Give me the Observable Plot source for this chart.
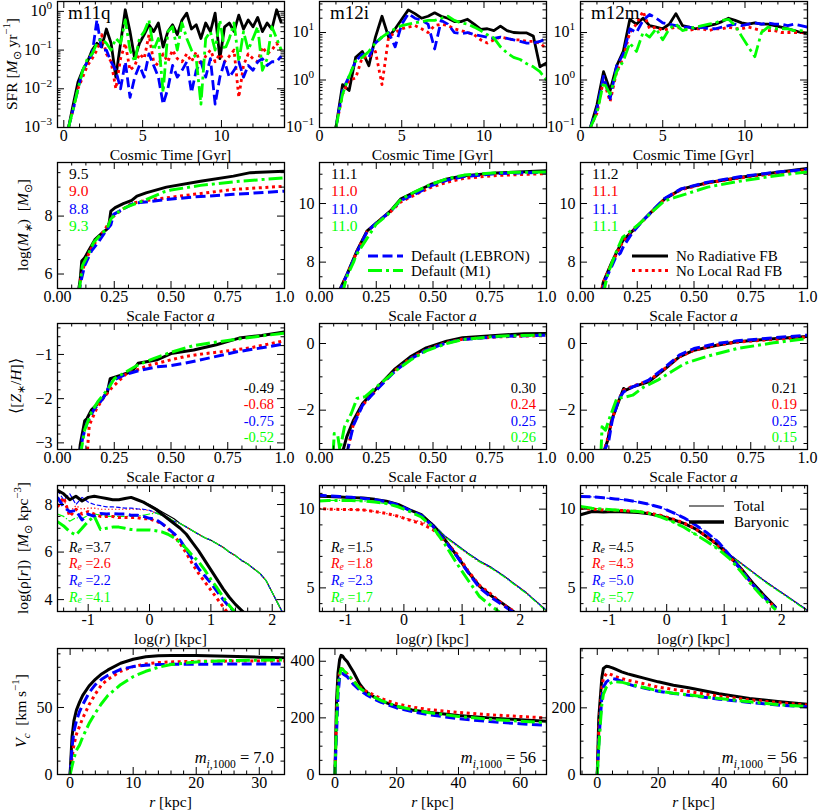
<!DOCTYPE html>
<html><head><meta charset="utf-8">
<script src="https://cdn.jsdelivr.net/npm/d3@7"></script>
<script src="https://cdn.jsdelivr.net/npm/@observablehq/plot@0.6"></script>
<style>
body{margin:0;background:#fff;}
#root{position:relative;width:822px;height:812px;overflow:hidden;background:#fff;}
#root svg{position:absolute;overflow:visible;}
#root text{white-space:pre;}
</style></head><body><div id="root"></div>
<script>
// ---------------- DATA ----------------
const galaxies = ["m11q", "m12i", "m12m"];
const seriesNames = ["No Radiative FB", "No Local Rad FB", "Default (LEBRON)", "Default (M1)"];

// Row 1: SFR [Msun/yr] vs cosmic time [Gyr]
const sfrTime_m11q = [0.3,0.6,0.9,1.2,1.5,1.8,2.1,2.4,2.7,3.0,3.3,3.6,3.9,4.2,4.5,4.8,5.1,5.4,5.7,6.0,6.3,6.6,6.9,7.2,7.5,7.8,8.1,8.4,8.7,9.0,9.3,9.6,9.9,10.2,10.5,10.8,11.1,11.4,11.7,12.0,12.3,12.6,12.9,13.2,13.5,13.8];
const sfr_m11q_noRad   = [0.001,0.004,0.015,0.03,0.05,0.1,0.15,0.12,0.35,0.15,0.02,0.15,1.1,0.3,0.06,0.15,0.25,0.45,0.3,0.5,0.12,0.3,0.45,0.25,0.6,0.9,0.35,0.45,0.2,0.5,0.3,0.9,0.06,0.4,0.5,0.3,0.8,0.35,0.6,0.4,0.7,0.3,0.5,0.35,1.1,0.5];
const sfr_m11q_noLocal = [0.001,0.003,0.01,0.02,0.04,0.06,0.1,0.25,0.08,0.05,0.01,0.06,0.15,0.03,0.04,0.08,0.06,0.25,0.05,0.04,0.08,0.05,0.1,0.06,0.05,0.08,0.05,0.09,0.04,0.07,0.1,0.05,0.08,0.05,0.07,0.1,0.006,0.04,0.08,0.06,0.05,0.12,0.08,0.1,0.15,0.1];
const sfr_m11q_lebron  = [0.001,0.003,0.01,0.03,0.05,0.08,0.6,0.1,0.1,0.05,0.03,0.01,0.05,0.006,0.02,0.04,0.02,0.08,0.04,0.02,0.004,0.01,0.04,0.02,0.03,0.05,0.008,0.03,0.05,0.02,0.06,0.004,0.02,0.05,0.02,0.03,0.05,0.02,0.04,0.03,0.05,0.06,0.04,0.05,0.05,0.07];
const sfr_m11q_m1      = [0.001,0.003,0.01,0.03,0.06,0.08,0.15,0.2,0.15,0.1,0.2,0.15,0.6,0.1,0.05,0.2,0.3,0.6,0.1,0.2,0.008,0.3,0.4,0.1,0.5,0.2,0.1,0.06,0.004,0.2,0.3,0.1,0.6,0.1,0.2,0.5,0.05,0.3,0.1,0.2,0.4,0.03,0.06,0.4,0.2,0.1];

const sfrTime_m12i = [1.0,1.4,1.8,2.2,2.6,3.0,3.4,3.8,4.2,4.6,5.0,5.4,5.8,6.2,6.6,7.0,7.4,7.8,8.2,8.6,9.0,9.4,9.8,10.2,10.6,11.0,11.4,11.8,12.2,12.6,13.0,13.4,13.8];
const sfr_m12i_noRad   = [0.1,0.8,0.6,3,4,2,8,22,8,12,19,30,25,20,22,26,22,20,17,17,19,15,11.6,12,11,13.6,11,10,9.8,9.8,8.4,1.9,2.3];
const sfr_m12i_noLocal = [0.1,0.5,1.0,1.1,3,3,4,0.8,8,10,12,13,14,12,10,14,15,14,12,11,10,9,7,6,7,8,7.5,7,7,6.5,6.5,6,4.5];
const sfr_m12i_lebron  = [0.1,0.6,1.2,2.5,3.5,3,6,8,10,5,15,25,20,18,15,4.5,18,15,10,9.5,10,9,8.5,8,7.5,8,7.5,7,6.5,6,6,6.5,7.5];
const sfr_m12i_m1      = [0.1,0.5,1.2,2.5,3,4,6,8,10,12,14,15,16,17,18,18,20,22,18,16,15,13,11,9,7.7,5,3.7,3,2.7,2.2,1.9,1.5,1.0];

const sfrTime_m12m = [0.6,1.0,1.4,1.8,2.2,2.6,3.0,3.4,3.8,4.2,4.6,5.0,5.4,5.8,6.2,6.6,7.0,7.4,7.8,8.2,8.6,9.0,9.4,9.8,10.2,10.6,11.0,11.4,11.8,12.2,12.6,13.0,13.4,13.8];
const sfr_m12m_noRad   = [0.1,0.3,1.5,0.6,2,4,19,15,20,14,13,12,15,25,14,13,12,13,14,15,17,20,18,16,15,16,15,15,14,13,12,11,10,9.8];
const sfr_m12m_noLocal = [0.1,0.2,1.0,0.35,1.5,3,10,15,28,12,13,11,12,13,12,11,12,12,11,12,12,13,12,12,13,12,11,11,11,10,10,10,10,10.5];
const sfr_m12m_lebron  = [0.1,0.25,1.2,0.4,2,3.5,12,10,18,24,20,16,15,14,13,13,12,13,12,12,13,14,15,14,15,16,15,16,15,15,14,15,14,13];
const sfr_m12m_m1      = [0.1,0.2,0.9,0.5,1.5,2.5,6,4,10,8,12,7,12,15,11,12,13,14,15,16,18,19,14,8.3,5,3.1,10,13,12,12,12,11,11,10];

// Row 2: log(M*) vs scale factor a   ([a, logM])
const mstar_m11q_noRad   = [[0.09,5.3],[0.1,5.8],[0.107,6.45],[0.12,6.56],[0.137,6.8],[0.166,7.2],[0.19,7.37],[0.217,7.54],[0.228,7.77],[0.235,8.17],[0.254,8.29],[0.29,8.43],[0.327,8.54],[0.35,8.69],[0.39,8.8],[0.48,9.0],[0.63,9.2],[0.775,9.38],[0.85,9.5],[1.0,9.55]];
const mstar_m11q_noLocal = [[0.095,5.3],[0.1,5.75],[0.12,6.4],[0.15,6.9],[0.18,7.25],[0.21,7.55],[0.24,7.95],[0.28,8.2],[0.33,8.45],[0.4,8.55],[0.48,8.63],[0.6,8.75],[0.775,8.92],[1.0,9.03]];
const mstar_m11q_lebron  = [[0.095,5.3],[0.1,5.64],[0.12,6.3],[0.15,6.8],[0.18,7.1],[0.21,7.45],[0.235,7.7],[0.247,8.06],[0.28,8.2],[0.335,8.44],[0.4,8.5],[0.48,8.57],[0.6,8.66],[0.775,8.75],[1.0,8.86]];
const mstar_m11q_m1      = [[0.095,5.3],[0.1,5.7],[0.11,6.3],[0.13,6.6],[0.16,7.1],[0.19,7.35],[0.22,7.6],[0.235,7.9],[0.26,8.1],[0.3,8.3],[0.35,8.45],[0.39,8.57],[0.47,8.84],[0.5,8.9],[0.63,9.06],[0.8,9.2],[1.0,9.32]];

const mstar_m12i_noRad   = [[0.09,6.9],[0.093,7.12],[0.122,7.6],[0.166,8.4],[0.21,9.07],[0.254,9.36],[0.313,9.75],[0.357,10.15],[0.416,10.37],[0.49,10.65],[0.563,10.84],[0.637,10.95],[0.78,11.04],[1.0,11.12]];
const mstar_m12i_noLocal = [[0.09,6.9],[0.095,7.12],[0.122,7.58],[0.166,8.38],[0.21,9.05],[0.254,9.35],[0.313,9.72],[0.357,10.05],[0.416,10.28],[0.49,10.55],[0.563,10.73],[0.637,10.86],[0.78,10.96],[1.0,11.02]];
const mstar_m12i_lebron  = [[0.09,6.9],[0.095,7.12],[0.122,7.58],[0.166,8.36],[0.21,9.05],[0.254,9.36],[0.313,9.73],[0.357,10.1],[0.416,10.3],[0.49,10.6],[0.563,10.8],[0.637,10.92],[0.78,11.02],[1.0,11.07]];
const mstar_m12i_m1      = [[0.1,6.9],[0.12,7.5],[0.15,8.0],[0.16,8.22],[0.2,8.7],[0.25,9.3],[0.3,9.62],[0.36,10.15],[0.42,10.4],[0.49,10.65],[0.563,10.85],[0.637,10.97],[0.78,11.05],[1.0,11.08]];

const mstar_m12m_noRad   = [[0.09,6.9],[0.1,7.3],[0.135,7.94],[0.16,8.35],[0.186,8.73],[0.23,9.07],[0.267,9.36],[0.325,9.81],[0.37,10.15],[0.443,10.49],[0.56,10.71],[0.707,10.9],[0.853,11.05],[1.0,11.2]];
const mstar_m12m_noLocal = [[0.09,6.9],[0.1,7.3],[0.135,7.92],[0.16,8.3],[0.186,8.7],[0.23,9.05],[0.267,9.35],[0.325,9.8],[0.37,10.15],[0.443,10.47],[0.56,10.7],[0.707,10.88],[0.853,11.02],[1.0,11.15]];
const mstar_m12m_lebron  = [[0.095,6.9],[0.11,7.4],[0.14,7.9],[0.157,8.2],[0.175,8.3],[0.19,8.55],[0.23,9.02],[0.267,9.35],[0.325,9.82],[0.37,10.17],[0.443,10.5],[0.56,10.73],[0.707,10.92],[0.853,11.06],[1.0,11.17]];
const mstar_m12m_m1      = [[0.1,6.9],[0.12,7.6],[0.14,8.0],[0.16,8.4],[0.186,8.85],[0.23,9.12],[0.267,9.36],[0.32,9.75],[0.37,10.09],[0.413,10.2],[0.56,10.56],[0.707,10.77],[0.853,10.94],[1.0,11.08]];
const mstarFinal = [["9.5","9.0","8.8","9.3"],["11.1","11.0","11.0","11.0"],["11.2","11.1","11.1","11.1"]];

// Row 3: <[Z*/H]> vs scale factor a
const zmet_m11q_noRad   = [[0.095,-3.3],[0.1,-3.05],[0.12,-2.5],[0.13,-2.45],[0.15,-2.25],[0.19,-2.05],[0.22,-1.85],[0.232,-1.55],[0.28,-1.47],[0.33,-1.38],[0.355,-1.2],[0.44,-1.12],[0.5,-0.98],[0.6,-0.9],[0.7,-0.78],[0.8,-0.63],[0.9,-0.57],[1.0,-0.49]];
const zmet_m11q_noLocal = [[0.13,-3.3],[0.14,-2.6],[0.17,-2.25],[0.2,-2.0],[0.24,-1.75],[0.3,-1.45],[0.4,-1.25],[0.44,-1.2],[0.5,-1.12],[0.56,-1.05],[0.65,-0.98],[0.72,-0.94],[0.85,-0.85],[1.0,-0.69]];
const zmet_m11q_lebron  = [[0.1,-3.3],[0.11,-2.9],[0.13,-2.55],[0.16,-2.25],[0.2,-2.0],[0.24,-1.6],[0.3,-1.45],[0.37,-1.35],[0.44,-1.28],[0.5,-1.25],[0.56,-1.2],[0.65,-1.1],[0.79,-0.94],[0.9,-0.85],[1.0,-0.76]];
const zmet_m11q_m1      = [[0.1,-3.3],[0.12,-2.7],[0.15,-2.3],[0.18,-2.05],[0.22,-1.8],[0.25,-1.55],[0.3,-1.4],[0.35,-1.25],[0.42,-1.1],[0.5,-0.95],[0.6,-0.8],[0.7,-0.72],[0.8,-0.65],[0.9,-0.58],[1.0,-0.52]];

const zmet_m12i_noRad   = [[0.1,-3.3],[0.12,-2.8],[0.15,-2.3],[0.19,-1.8],[0.26,-1.28],[0.33,-0.78],[0.4,-0.4],[0.47,-0.13],[0.56,0.07],[0.63,0.17],[0.79,0.25],[0.9,0.29],[1.0,0.30]];
const zmet_m12i_noLocal = [[0.12,-3.3],[0.15,-2.4],[0.19,-1.85],[0.26,-1.32],[0.33,-0.82],[0.4,-0.45],[0.47,-0.18],[0.56,0.03],[0.63,0.13],[0.79,0.2],[1.0,0.24]];
const zmet_m12i_lebron  = [[0.12,-3.3],[0.15,-2.45],[0.19,-1.85],[0.26,-1.33],[0.33,-0.85],[0.4,-0.47],[0.47,-0.2],[0.56,0.02],[0.63,0.12],[0.79,0.21],[1.0,0.25]];
const zmet_m12i_m1      = [[0.06,-3.3],[0.065,-2.7],[0.08,-2.75],[0.09,-3.2],[0.11,-2.5],[0.14,-2.1],[0.165,-1.65],[0.2,-1.6],[0.26,-1.25],[0.33,-0.85],[0.4,-0.5],[0.47,-0.22],[0.56,0.0],[0.63,0.12],[0.79,0.22],[1.0,0.26]];

const zmet_m12m_noRad   = [[0.1,-3.3],[0.12,-2.9],[0.137,-2.3],[0.17,-1.7],[0.19,-1.35],[0.2,-1.4],[0.23,-1.3],[0.3,-1.15],[0.366,-0.8],[0.435,-0.4],[0.5,-0.2],[0.6,-0.05],[0.69,0.05],[0.85,0.14],[1.0,0.21]];
const zmet_m12m_noLocal = [[0.1,-3.3],[0.12,-2.85],[0.14,-2.25],[0.17,-1.65],[0.19,-1.4],[0.23,-1.28],[0.3,-1.12],[0.366,-0.78],[0.435,-0.4],[0.5,-0.2],[0.6,-0.05],[0.69,0.04],[0.85,0.12],[1.0,0.19]];
const zmet_m12m_lebron  = [[0.1,-3.3],[0.125,-2.9],[0.14,-2.3],[0.17,-1.65],[0.19,-1.45],[0.23,-1.3],[0.3,-1.1],[0.366,-0.75],[0.435,-0.35],[0.5,-0.15],[0.6,0.0],[0.69,0.08],[0.85,0.17],[1.0,0.25]];
const zmet_m12m_m1      = [[0.09,-3.3],[0.095,-2.5],[0.11,-2.6],[0.13,-2.2],[0.16,-1.65],[0.2,-1.6],[0.23,-1.55],[0.28,-1.3],[0.34,-1.1],[0.4,-0.85],[0.46,-0.6],[0.55,-0.4],[0.69,-0.15],[0.85,0.02],[1.0,0.15]];
const zmetFinal = [["-0.49","-0.68","-0.75","-0.52"],["0.30","0.24","0.25","0.26"],["0.21","0.19","0.25","0.15"]];

// Row 4: log(rho) vs log(r): baryonic (thick) and total (thin)
const logr_m11q = [-1.5,-1.4,-1.3,-1.2,-1.1,-1.0,-0.9,-0.8,-0.7,-0.6,-0.5,-0.4,-0.3,-0.2,-0.1,0.0,0.1,0.2,0.3,0.4,0.5,0.6,0.7,0.8,0.9,1.0,1.1,1.2,1.3,1.4,1.5,1.6,1.7,1.8,1.9,2.0,2.1,2.2];
const rhoBar_m11q_noRad   = [8.6,8.45,8.2,8.35,8.15,8.3,8.35,8.3,8.25,8.2,8.2,8.25,8.3,8.2,8.1,7.95,7.8,7.6,7.4,7.2,7.0,6.75,6.4,6.05,5.65,5.25,4.85,4.45,4.1,3.8,3.55,3.3,null,null,null,null,null,null];
const rhoBar_m11q_noLocal = [7.9,8.3,7.5,7.8,7.6,7.7,7.6,7.5,7.5,7.5,7.45,7.45,7.45,7.45,7.4,7.4,7.3,7.2,7.0,6.7,6.35,5.95,5.5,5.1,4.75,4.4,4.05,3.7,3.35,null,null,null,null,null,null,null,null,null];
const rhoBar_m11q_lebron  = [8.3,7.9,7.7,7.75,7.35,7.6,7.5,7.62,7.6,7.62,7.6,7.6,7.55,7.55,7.5,7.42,7.38,7.2,7.0,6.78,6.5,6.1,5.7,5.3,5.0,4.7,4.35,4.0,3.7,3.45,null,null,null,null,null,null,null,null];
const rhoBar_m11q_m1      = [7.28,7.1,6.85,6.72,7.0,7.3,7.5,6.95,7.0,7.05,7.05,7.0,6.95,6.93,6.93,6.93,6.9,6.85,6.75,6.6,6.4,6.15,5.85,5.6,5.25,4.85,4.5,4.1,3.75,3.45,null,null,null,null,null,null,null,null];
const rhoTot_m11q_noRad   = [8.6,8.45,8.2,8.35,8.15,8.3,8.35,8.3,8.25,8.2,8.2,8.25,8.3,8.2,8.1,8.0,7.85,7.7,7.55,7.4,7.2,7.05,6.9,6.75,6.6,6.5,6.35,6.2,6.0,5.85,5.65,5.5,5.3,5.1,4.8,4.3,3.8,3.3];
const rhoTot_m11q_noLocal = [8.0,8.2,7.7,7.95,7.8,7.85,7.85,7.8,7.8,7.8,7.8,7.8,7.8,7.8,7.78,7.75,7.65,7.55,7.45,7.3,7.2,7.05,6.9,6.75,6.6,6.5,6.35,6.2,6.0,5.85,5.65,5.5,5.3,5.1,4.8,4.3,3.8,3.3];
const rhoTot_m11q_lebron  = [8.6,8.2,8.45,8.0,8.3,8.1,8.0,7.95,7.9,7.9,7.88,7.85,7.85,7.82,7.8,7.76,7.65,7.55,7.45,7.3,7.2,7.05,6.9,6.75,6.6,6.5,6.35,6.2,6.0,5.85,5.65,5.5,5.3,5.1,4.8,4.3,3.8,3.3];
const rhoTot_m11q_m1      = [7.6,7.5,7.3,7.45,7.4,7.55,7.6,7.55,7.5,7.5,7.5,7.5,7.5,7.52,7.55,7.6,7.65,7.55,7.45,7.3,7.2,7.05,6.9,6.75,6.6,6.5,6.35,6.2,6.0,5.85,5.65,5.5,5.3,5.1,4.8,4.3,3.8,3.3];

const logr_m12 = [-1.5,-1.3,-1.1,-0.9,-0.7,-0.5,-0.3,-0.1,0.1,0.3,0.5,0.7,0.9,1.1,1.3,1.5,1.7,1.9,2.1,2.3,2.5];
const rhoBar_m12i_noRad   = [10.82,10.8,10.77,10.73,10.7,10.62,10.5,10.3,9.95,9.65,8.95,8.07,7.1,6.03,5.1,4.5,4.0,3.45,null,null,null];
const rhoBar_m12i_noLocal = [10.06,10.0,9.98,9.97,9.95,9.85,9.72,9.55,9.3,9.08,8.7,8.0,7.2,6.1,5.15,4.6,3.95,3.5,null,null,null];
const rhoBar_m12i_lebron  = [10.88,10.85,10.8,10.75,10.68,10.6,10.47,10.27,9.92,9.6,8.9,8.0,7.05,6.0,5.0,4.4,3.9,3.4,null,null,null];
const rhoBar_m12i_m1      = [10.5,10.55,10.55,10.55,10.52,10.45,10.35,10.15,9.85,9.5,8.85,7.8,6.6,5.5,4.45,3.85,3.3,null,null,null,null];
const rhoTot_m12i_noRad   = [10.82,10.8,10.77,10.73,10.7,10.62,10.5,10.3,9.95,9.65,9.05,8.3,7.75,7.2,6.7,6.3,5.8,5.25,4.7,4.05,3.4];
const rhoTot_m12i_noLocal = [10.06,10.0,9.98,9.97,9.95,9.85,9.72,9.55,9.35,9.2,8.9,8.25,7.7,7.15,6.65,6.25,5.8,5.25,4.7,4.05,3.4];
const rhoTot_m12i_lebron  = [10.88,10.85,10.8,10.75,10.68,10.6,10.47,10.27,9.95,9.65,9.05,8.3,7.75,7.2,6.7,6.3,5.8,5.25,4.7,4.05,3.4];
const rhoTot_m12i_m1      = [10.5,10.55,10.55,10.55,10.52,10.45,10.35,10.15,9.9,9.6,9.0,8.25,7.7,7.15,6.65,6.25,5.75,5.2,4.65,4.0,3.35];

const rhoBar_m12m_noRad   = [9.64,9.85,9.82,9.85,9.82,9.78,9.7,9.55,9.35,9.1,8.75,8.25,7.7,7.0,6.2,5.3,4.5,3.75,null,null,null];
const rhoBar_m12m_noLocal = [10.06,10.0,9.95,9.93,9.9,9.85,9.75,9.6,9.38,9.12,8.75,8.25,7.68,6.95,6.15,5.2,4.4,3.7,null,null,null];
const rhoBar_m12m_lebron  = [10.8,10.78,10.72,10.65,10.58,10.45,10.3,10.1,9.8,9.45,9.0,8.5,7.9,7.05,6.1,5.2,4.4,3.7,null,null,null];
const rhoBar_m12m_m1      = [10.17,10.05,10.0,9.95,9.9,9.85,9.72,9.5,9.2,8.85,8.4,7.95,7.45,6.85,6.0,5.1,4.3,3.6,null,null,null];
const rhoTot_m12m_noRad   = [9.64,9.85,9.82,9.85,9.82,9.78,9.7,9.55,9.35,9.1,8.75,8.25,7.75,7.1,6.55,6.0,5.45,4.95,4.45,3.95,3.45];
const rhoTot_m12m_noLocal = [10.06,10.0,9.95,9.93,9.9,9.85,9.75,9.6,9.38,9.12,8.75,8.25,7.75,7.1,6.55,6.0,5.45,4.95,4.45,3.95,3.45];
const rhoTot_m12m_lebron  = [10.8,10.78,10.72,10.65,10.58,10.45,10.3,10.1,9.8,9.45,9.0,8.5,7.95,7.1,6.55,6.0,5.45,4.95,4.45,3.95,3.45];
const rhoTot_m12m_m1      = [10.17,10.05,10.0,9.95,9.9,9.85,9.72,9.5,9.2,8.85,8.4,7.95,7.5,7.05,6.5,5.95,5.4,4.9,4.4,3.9,3.4];
const effRadius = [["3.7","2.6","2.2","4.1"],["1.5","1.8","2.3","1.7"],["4.5","4.3","5.0","5.7"]];

// Row 5: circular velocity [km/s] vs r [kpc]
const rad_m11q = [0,0.3,0.6,1,1.5,2,3,4,5,6,8,10,12,14,16,20,25,30,35];
const vc_m11q_noRad   = [0,28,40,48,54,59,66,71,75,78,83,86,87.8,88.6,88.8,88.7,88.2,87.5,87];
const vc_m11q_noLocal = [0,12,22,30,36,42,52,60,67,71,77,80.5,82.5,83.5,84,84.4,84.6,84.6,84.6];
const vc_m11q_lebron  = [0,20,32,40,47,52,61,67,71,74,78.5,80.5,81.5,82,82.2,82.3,82.4,82.4,82.4];
const vc_m11q_m1      = [0,6,12,18,22,28,38,46,53,59,67,73,77,80,82,84,85,85.3,85.4];
const rad_m12i = [0,0.5,1,1.5,2,2.5,3,4,5,6,8,10,12,15,20,25,30,40,50,60,70];
const vc_m12i_noRad   = [0,256,360,405,421,418,410,398,380,362,320,292,278,260,240,228,220,208,200,193,187];
const vc_m12i_noLocal = [0,200,320,362,374,372,366,355,342,330,310,295,284,268,250,238,230,219,211,205,199];
const vc_m12i_lebron  = [0,139,280,340,356,357,352,345,332,318,298,283,270,255,235,222,212,197,187,179,173];
const vc_m12i_m1      = [0,180,310,350,374,372,365,356,343,330,305,290,277,261,241,229,219,205,195,188,182];
const rad_m12m = [0,0.5,1,1.5,2,3,4,5,6,8,10,12,15,20,25,30,40,50,60,70];
const vc_m12m_noRad   = [0,170,230,290,318,325,323,320,316,308,302,297,290,278,268,260,242,228,218,210];
const vc_m12m_noLocal = [0,130,200,260,288,303,302,298,294,288,283,279,273,262,255,249,235,224,215,208];
const vc_m12m_lebron  = [0,90,168,230,262,278,285,288,286,280,272,266,260,250,243,238,226,216,208,203];
const vc_m12m_m1      = [0,80,150,210,240,262,272,277,278,277,272,268,262,251,244,239,228,218,209,203];
const massRes = ["7.0","56","56"];

// Tick values
const sfrTicksX = [0,5,10];
const sfrTicksY_m11 = [0.001,0.01,0.1,1];
const sfrTicksY_m12 = [0.1,1,10];
const aTicks = [0,0.25,0.5,0.75,1.0];
const mstarTicksY_m11 = [6,8];
const mstarTicksY_m12 = [8,10];
const zTicksY_m11 = [-3,-2,-1];
const zTicksY_m12 = [-2,0];
const logrTicks = [-1,0,1,2];
const rhoTicksY_m11 = [4,6,8];
const rhoTicksY_m12 = [5,10];
const vcTicksX_m11 = [0,10,20,30];
const vcTicksX_m12 = [0,20,40,60];
const vcTicksY = [[0,50],[0,200,400],[0,200]];

// ---------------- STYLE / LAYOUT ----------------
const FONT = '"Liberation Serif","Times New Roman",serif';
const TICK_FS = 16, TITLE_FS = 15.5, VAL_FS = 15.5, LEG_FS = 15;
const SER = ["noRad","noLocal","lebron","m1"];
const COLOR = {noRad:"#000000", noLocal:"#ff0000", lebron:"#0000ff", m1:"#00ff00"};
const DASH = {noRad:null, noLocal:"3,3.6", lebron:"10,4.5", m1:"14,4,3,4"};
const THIN = {noRad:null, noLocal:"1.3,2.2", lebron:"4.5,2", m1:"7.5,2,1.3,2"};
const colLeft = [57,319,580], rowTop = [1,162,323,485,648];
const FW = 227, FH = 126, ML = 57, MT = 3, MR = 14, MB = 42;
const root = document.getElementById("root");

const rowsFrom = (xs, ys) => xs.map((x,i)=>({x, y: ys[i]})).filter(d => d.y != null);
const rowsPairs = p => p.map(([x,y]) => ({x, y}));

function rich(g, x, y, parts, o = {}) {
  const size = o.size || VAL_FS;
  const subShift = o.subShift != null ? o.subShift : 0.28;
  const t = g.append("text").attr("x", x).attr("y", y).attr("font-size", size)
    .attr("font-family", FONT).attr("fill", o.color || "black")
    .attr("text-anchor", o.anchor || "start").style("white-space", "pre");
  if (o.rotate) t.attr("transform", `rotate(${o.rotate},${x},${y})`);
  let shift = 0;
  for (const p of parts) {
    const [s, k] = typeof p === "string" ? [p, ""] : p;
    const ts = t.append("tspan").text(s);
    let target = 0, fs = size;
    if (k.includes("sup")) { target = -0.42 * size; fs = 0.7 * size; }
    if (k.includes("sub")) { target = subShift * size; fs = 0.7 * size; }
    ts.attr("font-size", fs);
    if (target !== shift) { ts.attr("dy", target - shift); shift = target; }
    if (/\bi\b/.test(k)) ts.attr("font-style", "italic");
  }
  return t;
}
function legendItem(g, x1, x2, xt, y, color, dash, width, label) {
  const l = g.append("line").attr("x1", x1).attr("x2", x2).attr("y1", y).attr("y2", y)
    .attr("stroke", color).attr("stroke-width", width);
  if (dash) l.attr("stroke-dasharray", dash);
  rich(g, xt, y + 5, [label], {size: LEG_FS});
}

function minorLin(dom, step) {
  const lo = Math.ceil(Math.min(...dom) / step - 1e-9) * step;
  return d3.range(lo, Math.max(...dom) + 1e-9, step);
}
function minorLog(dom) {
  const out = [];
  for (let e = Math.floor(Math.log10(dom[0])); e <= Math.ceil(Math.log10(dom[1])); e++)
    for (let m = 2; m <= 9; m++) { const v = m * 10 ** e; if (v >= dom[0] && v <= dom[1]) out.push(v); }
  return out;
}

function panel(cfg) {
  const {row, col, xDomain, yDomain, yLog} = cfg;
  const within = (v, d) => v >= Math.min(...d) - 1e-9 && v <= Math.max(...d) + 1e-9;
  const xt = cfg.xTicks.filter(v => within(v, xDomain));
  const yt = cfg.yTicks.filter(v => within(v, yDomain));
  const notMajor = (arr, maj) => arr.filter(v => !maj.some(t => Math.abs(t - v) < 1e-6 * Math.max(1, Math.abs(t))));
  const xm = notMajor(cfg.xMinor, xt);
  const ym = notMajor(cfg.yMinor, yt);
  const marks = [];
  for (const L of cfg.lines) {
    const o = {x: "x", y: "y", stroke: L.color, strokeWidth: L.width, strokeLinecap: "butt", strokeLinejoin: "round", clip: true};
    if (L.dash) o.strokeDasharray = L.dash;
    marks.push(Plot.line(L.data, o));
  }
  const MAJ = 7, MIN = 3.5;
  marks.push(
    Plot.tickX(xt, {x: d => d, insetTop: FH - MAJ, stroke: "black"}),
    Plot.tickX(xt, {x: d => d, insetBottom: FH - MAJ, stroke: "black"}),
    Plot.tickX(xm, {x: d => d, insetTop: FH - MIN, stroke: "black"}),
    Plot.tickX(xm, {x: d => d, insetBottom: FH - MIN, stroke: "black"}),
    Plot.tickY(yt, {y: d => d, insetRight: FW - MAJ, stroke: "black"}),
    Plot.tickY(yt, {y: d => d, insetLeft: FW - MAJ, stroke: "black"}),
    Plot.tickY(ym, {y: d => d, insetRight: FW - MIN, stroke: "black"}),
    Plot.tickY(ym, {y: d => d, insetLeft: FW - MIN, stroke: "black"}),
    Plot.frame({stroke: "black", strokeWidth: 1.3}),
    Plot.axisX(xt, {tickSize: 0, tickPadding: 2, tickFormat: cfg.xFmt || (d => String(d)), label: null, fontSize: TICK_FS, fontFamily: FONT})
  );
  if (!yLog) marks.push(Plot.axisY(yt, {tickSize: 0, tickPadding: 5, tickFormat: cfg.yFmt || (d => String(d)), label: null, fontSize: TICK_FS, fontFamily: FONT}));
  const svg = Plot.plot({
    width: ML + FW + MR, height: MT + FH + MB,
    marginLeft: ML, marginRight: MR, marginTop: MT, marginBottom: MB,
    x: {type: "linear", domain: xDomain},
    y: yLog ? {type: "log", domain: yDomain, axis: null} : {type: "linear", domain: yDomain},
    style: {fontFamily: FONT, fontSize: TICK_FS + "px", background: "none", overflow: "visible"},
    marks
  });
  svg.style.position = "absolute";
  svg.style.left = (colLeft[col] - ML) + "px";
  svg.style.top = (rowTop[row] - MT) + "px";
  root.appendChild(svg);
  const g = d3.select(svg).append("g");
  const F = {l: ML, t: MT, r: ML + FW, b: MT + FH, cx: ML + FW / 2, cy: MT + FH / 2};
  if (yLog) {
    const ys = svg.scale("y");
    const f = ys.apply ? (v => ys.apply(v)) : d3.scaleLog().domain(ys.domain).range(ys.range);
    for (const v of yt) {
      const e = Math.round(Math.log10(v));
      rich(g, F.l - 5, f(v) + 5, ["10", [e < 0 ? "\u2212" + (-e) : String(e), "sup"]], {anchor: "end", size: TICK_FS});
    }
  }
  if (cfg.xTitle) rich(g, F.cx, F.b + 33, cfg.xTitle, {anchor: "middle", size: TITLE_FS});
  if (cfg.yTitle) rich(g, F.l + cfg.yTitleDx, F.cy, cfg.yTitle, {anchor: "middle", rotate: -90, size: TITLE_FS});
  if (cfg.annotate) cfg.annotate(g, F);
}

function thick(dataBySer, w = 3) {
  return SER.map(s => ({data: dataBySer[s], color: COLOR[s], dash: DASH[s], width: w}));
}
function thin(dataBySer) {
  return SER.map(s => ({data: dataBySer[s], color: COLOR[s], dash: THIN[s], width: 1.2}));
}
function valueStack(g, x, ys, texts, anchor, size) {
  texts.forEach((s, i) => rich(g, x, ys[i], [s], {anchor, color: COLOR[SER[i]], size}));
}

const yTitles = [
  ["SFR [", ["M","i"], ["\u2299","sub"], " yr", ["\u22121","sup"], "]"],
  ["log(", ["M","i"], ["\u2217","i sub"], ")  [", ["M","i"], ["\u2299","sub"], "]"],
  ["\u27E8[", ["Z","i"], ["\u2217","sub"], "/", ["H","i"], "]\u27E9"],
  ["log(\u03C1[", ["r","i"], "])  [", ["M","i"], ["\u2299","sub"], " kpc", ["\u22123","sup"], "]"],
  [["V","i"], ["c","i sub"], "  [km s", ["\u22121","sup"], "]"]
];
const yTitleDx = [-40, -29, -36, -29, -31];
const xTitles = [
  ["Cosmic Time [Gyr]"],
  ["Scale Factor ", ["a","i"]],
  ["Scale Factor ", ["a","i"]],
  ["log(", ["r","i"], ") [kpc]"],
  [["r","i"], " [kpc]"]
];
const aFmt = d => d === 1 ? "1.0" : d.toFixed(2);
const minusFmt = d => d < 0 ? "\u2212" + Math.abs(d) : String(d);

// ---------- Row 1: SFR ----------
const sfrSets = [
  {t: sfrTime_m11q, v: {noRad: sfr_m11q_noRad, noLocal: sfr_m11q_noLocal, lebron: sfr_m11q_lebron, m1: sfr_m11q_m1}, xd: [-0.4, 14.0], yd: [0.001, 1.8], yt: sfrTicksY_m11},
  {t: sfrTime_m12i, v: {noRad: sfr_m12i_noRad, noLocal: sfr_m12i_noLocal, lebron: sfr_m12i_lebron, m1: sfr_m12i_m1}, xd: [0, 13.8], yd: [0.1, 45], yt: sfrTicksY_m12},
  {t: sfrTime_m12m, v: {noRad: sfr_m12m_noRad, noLocal: sfr_m12m_noLocal, lebron: sfr_m12m_lebron, m1: sfr_m12m_m1}, xd: [0, 13.8], yd: [0.1, 45], yt: sfrTicksY_m12}
];
sfrSets.forEach((S, c) => {
  const d = {}; SER.forEach(s => d[s] = rowsFrom(S.t, S.v[s]));
  panel({row: 0, col: c, xDomain: S.xd, yDomain: S.yd, yLog: true,
    xTicks: sfrTicksX, xMinor: minorLin(S.xd, 1), yTicks: S.yt, yMinor: minorLog(S.yd),
    lines: thick(d, 2.8), xTitle: xTitles[0],
    yTitle: c === 0 ? yTitles[0] : null, yTitleDx: yTitleDx[0],
    annotate: (g, F) => rich(g, F.l + 11, F.t + 18, [galaxies[c]], {size: 19})
  });
});

// ---------- Row 2: stellar mass ----------
const mstarSets = [
  {v: {noRad: mstar_m11q_noRad, noLocal: mstar_m11q_noLocal, lebron: mstar_m11q_lebron, m1: mstar_m11q_m1}, yd: [5.5, 9.85], yt: mstarTicksY_m11},
  {v: {noRad: mstar_m12i_noRad, noLocal: mstar_m12i_noLocal, lebron: mstar_m12i_lebron, m1: mstar_m12i_m1}, yd: [7.1, 11.4], yt: mstarTicksY_m12},
  {v: {noRad: mstar_m12m_noRad, noLocal: mstar_m12m_noLocal, lebron: mstar_m12m_lebron, m1: mstar_m12m_m1}, yd: [7.1, 11.4], yt: mstarTicksY_m12}
];
mstarSets.forEach((S, c) => {
  const d = {}; SER.forEach(s => d[s] = rowsPairs(S.v[s]));
  panel({row: 1, col: c, xDomain: [0, 1], yDomain: S.yd,
    xTicks: aTicks, xMinor: minorLin([0, 1], 0.0625), yTicks: S.yt, yMinor: minorLin(S.yd, 0.5),
    xFmt: aFmt, lines: thick(d), xTitle: xTitles[1],
    yTitle: c === 0 ? yTitles[1] : null, yTitleDx: yTitleDx[1],
    annotate: (g, F) => {
      valueStack(g, F.l + 12, [F.t + 16.5, F.t + 34, F.t + 51.5, F.t + 69], mstarFinal[c], "start", 15.5);
      if (c === 1) {
        legendItem(g, F.l + 49, F.l + 84, F.l + 92, F.t + 94, COLOR.lebron, DASH.lebron, 3, seriesNames[2]);
        legendItem(g, F.l + 49, F.l + 84, F.l + 92, F.t + 108.5, COLOR.m1, DASH.m1, 3, seriesNames[3]);
      }
      if (c === 2) {
        legendItem(g, F.l + 52, F.l + 88, F.l + 96, F.t + 94, COLOR.noRad, DASH.noRad, 3, seriesNames[0]);
        legendItem(g, F.l + 52, F.l + 88, F.l + 96, F.t + 108.5, COLOR.noLocal, DASH.noLocal, 3, seriesNames[1]);
      }
    }
  });
});

// ---------- Row 3: metallicity ----------
const zSets = [
  {v: {noRad: zmet_m11q_noRad, noLocal: zmet_m11q_noLocal, lebron: zmet_m11q_lebron, m1: zmet_m11q_m1}, yd: [-3.15, -0.3], yt: zTicksY_m11, minor: 0.2},
  {v: {noRad: zmet_m12i_noRad, noLocal: zmet_m12i_noLocal, lebron: zmet_m12i_lebron, m1: zmet_m12i_m1}, yd: [-3.18, 0.6], yt: zTicksY_m12, minor: 0.5},
  {v: {noRad: zmet_m12m_noRad, noLocal: zmet_m12m_noLocal, lebron: zmet_m12m_lebron, m1: zmet_m12m_m1}, yd: [-3.18, 0.6], yt: zTicksY_m12, minor: 0.5}
];
zSets.forEach((S, c) => {
  const d = {}; SER.forEach(s => d[s] = rowsPairs(S.v[s]));
  panel({row: 2, col: c, xDomain: [0, 1], yDomain: S.yd,
    xTicks: aTicks, xMinor: minorLin([0, 1], 0.0625), yTicks: S.yt, yMinor: minorLin(S.yd, S.minor),
    xFmt: aFmt, yFmt: minusFmt, lines: thick(d), xTitle: xTitles[2],
    yTitle: c === 0 ? yTitles[2] : null, yTitleDx: yTitleDx[2],
    annotate: (g, F) => valueStack(g, F.r - 10, [F.t + 69.5, F.t + 86, F.t + 102.5, F.t + 119], zmetFinal[c], "end", 14.5)
  });
});

// ---------- Row 4: density profiles ----------
const rhoSets = [
  {r: logr_m11q, bar: {noRad: rhoBar_m11q_noRad, noLocal: rhoBar_m11q_noLocal, lebron: rhoBar_m11q_lebron, m1: rhoBar_m11q_m1},
   tot: {noRad: rhoTot_m11q_noRad, noLocal: rhoTot_m11q_noLocal, lebron: rhoTot_m11q_lebron, m1: rhoTot_m11q_m1}, xd: [-1.5, 2.2], yd: [3.5, 8.8], yt: rhoTicksY_m11, minor: 0.5},
  {r: logr_m12, bar: {noRad: rhoBar_m12i_noRad, noLocal: rhoBar_m12i_noLocal, lebron: rhoBar_m12i_lebron, m1: rhoBar_m12i_m1},
   tot: {noRad: rhoTot_m12i_noRad, noLocal: rhoTot_m12i_noLocal, lebron: rhoTot_m12i_lebron, m1: rhoTot_m12i_m1}, xd: [-1.45, 2.45], yd: [3.5, 11.5], yt: rhoTicksY_m12, minor: 1},
  {r: logr_m12, bar: {noRad: rhoBar_m12m_noRad, noLocal: rhoBar_m12m_noLocal, lebron: rhoBar_m12m_lebron, m1: rhoBar_m12m_m1},
   tot: {noRad: rhoTot_m12m_noRad, noLocal: rhoTot_m12m_noLocal, lebron: rhoTot_m12m_lebron, m1: rhoTot_m12m_m1}, xd: [-1.5, 2.45], yd: [3.5, 11.5], yt: rhoTicksY_m12, minor: 1}
];
rhoSets.forEach((S, c) => {
  const db = {}, dt = {};
  SER.forEach(s => { db[s] = rowsFrom(S.r, S.bar[s]); dt[s] = rowsFrom(S.r, S.tot[s]); });
  panel({row: 3, col: c, xDomain: S.xd, yDomain: S.yd,
    xTicks: logrTicks, xMinor: minorLin(S.xd, 0.2), yTicks: S.yt, yMinor: minorLin(S.yd, S.minor),
    lines: [...thin(dt), ...thick(db)], xTitle: xTitles[3],
    yTitle: c === 0 ? yTitles[3] : null, yTitleDx: yTitleDx[3],
    annotate: (g, F) => {
      const ys = [F.t + 66.5, F.t + 83.2, F.t + 99.9, F.t + 116.6];
      effRadius[c].forEach((v, i) => rich(g, F.l + 12, ys[i], [["R","i"], ["e","i sub"], " =" + v], {color: COLOR[SER[i]], size: 14, subShift: 0.12}));
      if (c === 2) {
        legendItem(g, F.l + 109, F.l + 144, F.l + 154, F.t + 21, "black", null, 1.2, "Total");
        legendItem(g, F.l + 109, F.l + 144, F.l + 154, F.t + 37, "black", null, 3.5, "Baryonic");
      }
    }
  });
});

// ---------- Row 5: rotation curves ----------
const vcSets = [
  {r: rad_m11q, v: {noRad: vc_m11q_noRad, noLocal: vc_m11q_noLocal, lebron: vc_m11q_lebron, m1: vc_m11q_m1}, xd: [-2, 34], yd: [0, 94], xt: vcTicksX_m11, xmin: 2, ymin: 10},
  {r: rad_m12i, v: {noRad: vc_m12i_noRad, noLocal: vc_m12i_noLocal, lebron: vc_m12i_lebron, m1: vc_m12i_m1}, xd: [-5, 68.5], yd: [0, 445], xt: vcTicksX_m12, xmin: 5, ymin: 50},
  {r: rad_m12m, v: {noRad: vc_m12m_noRad, noLocal: vc_m12m_noLocal, lebron: vc_m12m_lebron, m1: vc_m12m_m1}, xd: [-5.5, 69], yd: [0, 378], xt: vcTicksX_m12, xmin: 5, ymin: 50}
];
vcSets.forEach((S, c) => {
  const d = {}; SER.forEach(s => d[s] = rowsFrom(S.r, S.v[s]));
  panel({row: 4, col: c, xDomain: S.xd, yDomain: S.yd,
    xTicks: S.xt, xMinor: minorLin(S.xd, S.xmin), yTicks: vcTicksY[c], yMinor: minorLin(S.yd, S.ymin),
    lines: thick(d), xTitle: xTitles[4],
    yTitle: c === 0 ? yTitles[4] : null, yTitleDx: yTitleDx[4],
    annotate: (g, F) => rich(g, F.r - 10, F.t + 115, [["m","i"], ["i","i sub"], [",1000","sub"], " = " + massRes[c]], {anchor: "end", size: 16.5})
  });
});
</script>
</body></html>
